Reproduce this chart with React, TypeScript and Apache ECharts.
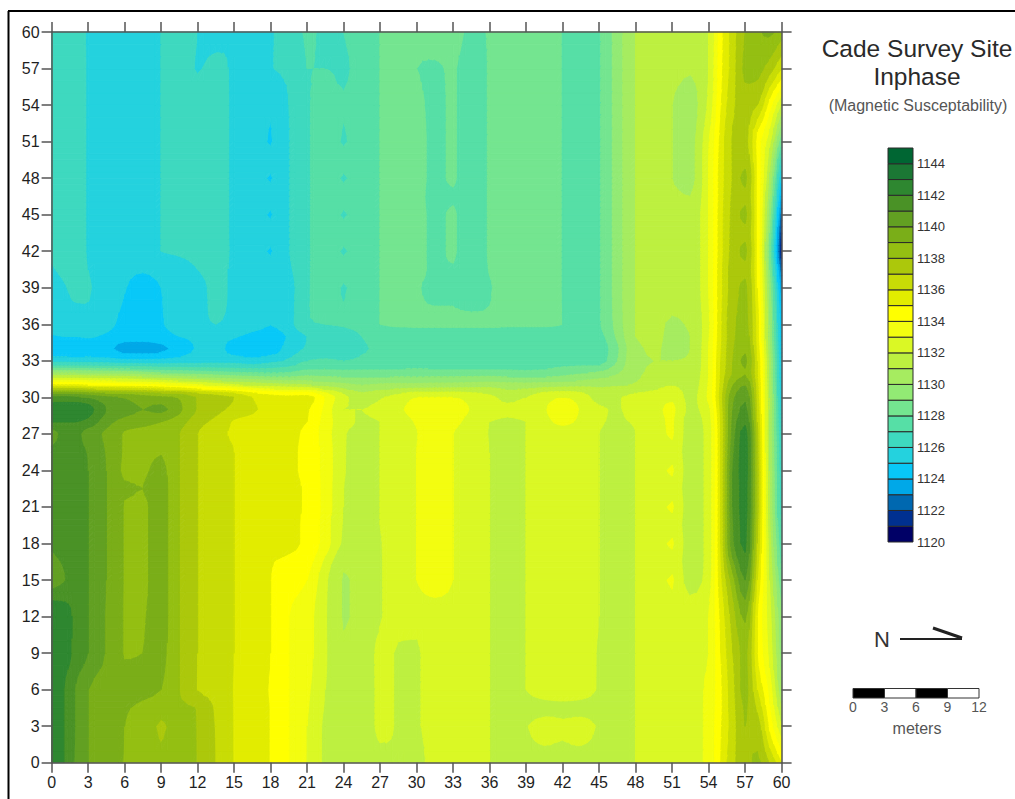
import React, { useEffect, useRef } from "react";
import * as echarts from "echarts";

// Map axes
const xTicks = { min: 0, max: 60, step: 3 };
const xs = [
  0, 1, 2, 3,
  4.5, 6, 7.5, 9, 10.5, 12, 13.5, 15, 16.5, 18, 19.5, 21,
  22.5, 24, 25.5, 27, 28.5, 30, 31.5, 33, 34.5, 36,
  37.5, 39, 40.5, 42, 43.5, 45, 46.5, 48, 49.5, 51, 52.5,
  54, 55, 56, 57, 58, 59, 60,
];

const row60 = [1126.4,1126.4,1126.3,1125.9, 1125.4,1125.4,1125.5,1126,1126.3,1126,1125.6,1125.9,1125.4,1125.9,1126.4,1127.1, 1126.9,1127,1127.4,1128,1128.4,1128.3,1128.5,1128.5,1127.7,1128.1, 1128.5,1128.5,1128.5,1127.95,1127.5,1127.9,1129.5,1131,1131.5,1131.5,1131.5, 1132,1134.6,1136.5,1138,1138.8,1139.2,1138.5];
const row57 = [1126.5,1126.5,1126.4,1125.9, 1125.4,1125.4,1125.5,1126,1126.3,1125.95,1126.2,1125.85,1125.3,1125.95,1126.2,1127, 1127,1126.9,1127.4,1128,1128.4,1128,1127.9,1128.1,1127.4,1128.1, 1128.5,1128.5,1128.5,1127.95,1127.5,1127.9,1129.5,1131,1131.5,1131.3,1131.1, 1132,1134.7,1136.5,1138.2,1138.3,1137.5,1136];
const row54 = [1126.5,1126.5,1126.4,1125.9, 1125.4,1125.4,1125.5,1126,1126.4,1126.4,1126.3,1125.85,1125.4,1125.1,1126,1126.9, 1127.3,1127.05,1127.4,1128,1128.5,1128.2,1127.8,1128.1,1127.4,1128.1, 1128.5,1128.5,1128.5,1127.95,1127.5,1127.9,1129.5,1131,1131.5,1131,1130.6, 1132.2,1134.9,1136.8,1137.5,1137,1134.5,1131.8];
const row51 = [1126.5,1126.5,1126.4,1125.9, 1125.4,1125.4,1125.5,1126,1126.4,1126.4,1126.3,1125.85,1125.4,1124.95,1125.95,1126.9, 1127.3,1126.95,1127.4,1128,1128.5,1128.3,1127.8,1128.1,1127.4,1128.1, 1128.5,1128.5,1128.5,1127.95,1127.5,1127.9,1129.5,1131,1131.5,1131,1130.7, 1132.9,1135.3,1137.1,1137.3,1134.6,1132.3,1128];
const row49 = [1126.5,1126.5,1126.4,1125.9, 1125.4,1125.4,1125.5,1126,1126.4,1126.4,1126.3,1125.85,1125.4,1125.2,1125.95,1126.9, 1127.3,1127.2,1127.4,1128,1128.5,1128.3,1127.8,1128.1,1127.4,1128.1, 1128.5,1128.5,1128.5,1127.95,1127.5,1127.9,1129.5,1131,1131.5,1131,1130.7, 1133,1135.4,1137.1,1137.7,1134.7,1131.5,1126];
const row48 = [1126.5,1126.5,1126.4,1125.9, 1125.4,1125.4,1125.5,1126,1126.4,1126.4,1126.3,1125.85,1125.4,1124.95,1125.95,1126.9, 1127.3,1126.95,1127.4,1128,1128.5,1128.3,1127.8,1128.1,1127.4,1128.1, 1128.5,1128.5,1128.5,1127.95,1127.5,1127.9,1129.5,1131,1131.5,1131,1130.7, 1133,1135.5,1137.1,1138.2,1134.9,1130.8,1124.5];
const row46 = [1126.5,1126.5,1126.4,1125.9, 1125.4,1125.4,1125.5,1126,1126.4,1126.4,1126.3,1125.85,1125.4,1125.2,1125.95,1126.9, 1127.3,1127.2,1127.4,1128,1128.5,1128.3,1127.7,1127.9,1127.4,1128.1, 1128.5,1128.5,1128.5,1127.95,1127.5,1127.9,1129.5,1131,1131.5,1131.2,1131, 1133,1135.5,1137.2,1137.8,1134.8,1130.1,1123.2];
const row45 = [1126.5,1126.5,1126.4,1125.9, 1125.4,1125.4,1125.5,1126,1126.4,1126.4,1126.3,1125.85,1125.4,1124.95,1125.95,1126.9, 1127.3,1126.95,1127.4,1128,1128.5,1128.3,1127.8,1128.1,1127.4,1128.1, 1128.5,1128.5,1128.5,1127.95,1127.5,1127.9,1129.5,1131,1131.5,1131.4,1131.3, 1133,1135.6,1137.3,1138.2,1134.8,1129.5,1122];
const row43 = [1126.4,1126.5,1126.4,1125.9, 1125.4,1125.4,1125.5,1126,1126.3,1126.4,1126.3,1125.85,1125.4,1125.2,1125.95,1126.9, 1127.3,1127.2,1127.4,1128,1128.5,1128.3,1127.8,1128.1,1127.4,1128.1, 1128.5,1128.5,1128.5,1127.95,1127.5,1127.9,1129.5,1131,1131.5,1131.4,1131.3, 1133,1135.6,1137.3,1137.8,1134.8,1129,1121];
const row42 = [1126.2,1126.4,1126.4,1125.9, 1125.4,1125.4,1125.5,1126,1126.1,1126.2,1126.3,1125.85,1125.4,1124.95,1125.95,1126.9, 1127.3,1126.95,1127.4,1128,1128.5,1128.3,1127.8,1128.1,1127.4,1128.1, 1128.5,1128.5,1128.5,1127.95,1127.5,1127.9,1129.5,1131,1131.5,1131.4,1131.3, 1133,1135.6,1137.4,1138.2,1134.8,1128.5,1120.6];
const row40 = [1125.9,1126.2,1126.3,1126, 1125.4,1125.2,1125.1,1125.4,1125.7,1126,1126.2,1125.85,1125.4,1125.2,1125.8,1126.9, 1127.3,1127.2,1127.4,1128,1128.5,1128.2,1127.9,1127.95,1127.4,1128.05, 1128.5,1128.5,1128.5,1127.95,1127.5,1127.9,1129.5,1131,1131.5,1131.4,1131.3, 1133,1135.7,1137.4,1137.8,1134.9,1129,1122];
const row39 = [1125.5,1125.9,1126.2,1126.1, 1125.4,1125.05,1124.6,1125,1125.4,1125.8,1126.1,1125.9,1125.3,1125.15,1125.6,1126.9, 1127.3,1126.95,1127.4,1128,1128.4,1128.05,1127.9,1127.9,1127.6,1127.9, 1128.5,1128.5,1128.5,1127.95,1127.5,1127.9,1129.5,1131,1131.4,1131.3,1131.3, 1133,1135.7,1137.5,1138.2,1135,1129.5,1123];
const row36 = [1125.4,1125.5,1125.5,1125.6, 1125.3,1124.7,1124.5,1124.9,1125.5,1125.9,1126,1125.9,1125.4,1125.02,1125.6,1126.95, 1127,1127.1,1127.4,1128,1128.1,1128.1,1128.1,1128.1,1128.1,1128.1, 1128.1,1128.1,1128.1,1128,1127.6,1127.9,1129.4,1131,1131.2,1130.9,1131.1, 1132.8,1135.8,1137.8,1138.3,1135.5,1130,1124];
const row35 = [1124.9,1125,1125,1125.1, 1124.8,1124.3,1124.3,1124.5,1125,1125.2,1125.3,1125.1,1124.7,1124.6,1125.1,1126, 1126.4,1126.4,1127,1127.3,1127.5,1127.5,1127.5,1127.5,1127.5,1127.5, 1127.5,1127.5,1127.5,1127.5,1127.5,1127.7,1129.2,1131,1131.2,1130.8,1131, 1132.9,1135.8,1137.8,1138.5,1135.5,1130,1124.2];
const row34 = [1124.3,1124.3,1124.3,1124.4, 1124.2,1123.7,1123.6,1123.8,1124.4,1125.1,1125.3,1124.6,1124.4,1124.5,1125.4,1126.1, 1126.3,1126.3,1126.9,1127.1,1127.2,1127.2,1127.2,1127.2,1127.2,1127.2, 1127.2,1127.2,1127.2,1127.2,1127.2,1127.4,1128.8,1130.8,1131.1,1130.8,1131, 1133,1135.9,1137.9,1138.8,1135.7,1130.2,1124.3];
const row33 = [1125.7,1125.7,1125.6,1125.6, 1125.5,1125.3,1125.3,1125.3,1125.5,1125.6,1125.7,1125.6,1125.4,1125.7,1126.2,1127, 1127.2,1127,1127.2,1127.3,1127.3,1127.4,1127.3,1127.3,1127.3,1127.3, 1127.3,1127.3,1127.4,1127.6,1127.6,1127.6,1129,1130.8,1131,1131,1131.1, 1133,1136,1138,1139.2,1136,1130.5,1124.5];
const row32 = [1130,1130,1130,1129.9, 1129.8,1129.7,1129.4,1129,1128.8,1128.6,1128.4,1128.2,1128.1,1128,1128.1,1128.5, 1128.5,1128.4,1128.4,1128.4,1128.5,1128.5,1128.5,1128.5,1128.5,1128.5, 1128.4,1128.3,1128.4,1128.6,1128.9,1129.2,1129.9,1130.8,1131.2,1131.5,1131.3, 1133,1136.1,1138.1,1138.9,1136,1130.6,1124.6];
const row31 = [1135.2,1135.2,1135.2,1135, 1134.8,1134.6,1134.4,1134.1,1133.7,1133.2,1132.7,1132.2,1131.8,1131.5,1131.3,1131.1, 1130.6,1130.3,1130,1130.2,1130.3,1130.3,1130.4,1130.4,1130.5,1130.6, 1130.4,1130.4,1130.5,1130.6,1130.7,1130.8,1130.9,1131.1,1131.6,1132,1131.5, 1133.1,1136.3,1139,1140,1136.3,1130.8,1124.8];
const row30 = [1141.2,1141.3,1141.1,1140.8, 1140.2,1139.9,1139.5,1139.2,1138.9,1137.9,1137.5,1137,1136,1135.5,1135.3,1135.4, 1133.9,1132.3,1131.5,1131.9,1132.4,1133,1133,1133,1132.6,1132.2, 1131.8,1132,1132.7,1133,1132.6,1131.6,1131.9,1132.3,1132.5,1132.8,1131.7, 1133.2,1136.5,1139.8,1140.8,1136.5,1131,1125];
const row29 = [1142.6,1142.7,1142.7,1142.4, 1141,1140.4,1140,1140.2,1139.2,1137.9,1137.3,1136.7,1136.1,1135.8,1135.5,1135.1, 1133.7,1132,1132,1132.2,1132.8,1133.4,1133.8,1133.6,1132.9,1132.3, 1132.1,1132.3,1132.9,1133.5,1132.9,1132.1,1131.95,1132.3,1132.7,1133.2,1131.7, 1132.7,1136.3,1140,1141.3,1136.8,1131,1125.3];
const row28 = [1142,1142,1142,1141.7, 1140.4,1139.6,1139.3,1139,1138.4,1137.4,1136.7,1135.9,1135.7,1135.5,1135.3,1135, 1133.5,1132.4,1131.9,1132,1132.5,1133.1,1133.7,1133.3,1132.6,1132, 1131.9,1132,1132.7,1133.2,1132.8,1132.1,1131.9,1132.1,1132.6,1133.1,1131.5, 1132.5,1136.1,1140.3,1141.8,1137,1130.9,1125.5];
const row27 = [1140.5,1141.2,1141.2,1140.5, 1139.8,1138.9,1138.7,1138.6,1138,1137,1136.2,1135.9,1135.6,1135.5,1135.3,1134.7, 1133.5,1132.1,1131.6,1132,1132.5,1132.95,1133.6,1133,1132.5,1131.95, 1131.6,1132,1132.4,1132.6,1132.5,1132,1131.6,1132,1132.5,1133.1,1131.4, 1132.4,1136,1140.5,1142.4,1137.3,1130.8,1125.8];
const row25 = [1141.2,1141.5,1141.4,1140.9, 1139.9,1138.9,1138.8,1138.95,1138,1137,1136.4,1136,1135.7,1135.5,1135.2,1134.7, 1133.6,1132.1,1131.5,1132,1132.5,1133,1133.6,1133,1132.5,1132, 1131.5,1132,1132.5,1132.6,1132.5,1132,1131.5,1132,1132.5,1132.7,1131.4, 1132.4,1136,1140.8,1142.5,1137.4,1130.9,1125.9];
const row24 = [1141.4,1141.6,1141.5,1141, 1140,1138.85,1138.9,1139.2,1138,1137,1136.5,1136,1135.7,1135.5,1135.2,1134.7, 1133.6,1132.1,1131.4,1132,1132.5,1133,1133.6,1133,1132.5,1132, 1131.5,1132,1132.5,1132.6,1132.5,1132,1131.5,1132,1132.5,1133.1,1131.4, 1132.4,1136,1141,1142.5,1137.5,1131,1126];
const row22 = [1141.5,1141.6,1141.5,1141, 1140,1139.1,1139,1139.3,1138,1137,1136.5,1136,1135.7,1135.5,1135.3,1134.8, 1133.6,1132,1131.4,1132,1132.5,1133,1133.6,1133,1132.5,1132, 1131.5,1132,1132.5,1132.6,1132.5,1132,1131.5,1132,1132.5,1132.7,1131.4, 1132.4,1136,1141,1142.4,1137.5,1131,1126.2];
const row21 = [1141.5,1141.6,1141.5,1141, 1140,1138.95,1138.9,1139.3,1138,1137,1136.5,1136,1135.7,1135.5,1135.3,1134.8, 1133.6,1132,1131.4,1132,1132.5,1133,1133.6,1133,1132.5,1132, 1131.5,1132,1132.5,1132.6,1132.5,1132,1131.5,1132,1132.5,1133.1,1131.4, 1132.4,1136,1141,1142.4,1137.5,1131,1126.3];
const row19 = [1141.4,1141.6,1141.5,1141, 1140,1138.95,1138.9,1139.3,1138,1137,1136.5,1136,1135.7,1135.4,1135.2,1134.8, 1133.5,1131.9,1131.4,1132,1132.4,1133,1133.6,1133,1132.5,1132, 1131.5,1132,1132.5,1132.6,1132.5,1132,1131.5,1132,1132.5,1132.7,1131.4, 1132.4,1136,1140.9,1142.3,1137.2,1131.2,1126.7];
const row18 = [1141.2,1141.5,1141.5,1141, 1140,1138.95,1138.9,1139.3,1138,1137,1136.5,1136,1135.7,1135.4,1135.2,1134.8, 1133.5,1131.8,1131.4,1131.95,1132.4,1133,1133.6,1133,1132.5,1132, 1131.5,1132,1132.5,1132.6,1132.5,1132,1131.5,1132,1132.5,1133.1,1131.4, 1132.4,1136,1140.8,1142.2,1137,1131.5,1127];
const row16 = [1140.7,1141.1,1141.5,1141, 1140,1138.95,1138.9,1139.3,1138,1137,1136.5,1136,1135.6,1135.05,1134.8,1134.4, 1132.7,1131.2,1131.3,1131.95,1132.3,1133,1133.5,1133,1132.5,1132, 1131.5,1132,1132.5,1132.6,1132.5,1132,1131.5,1132,1132.5,1132.7,1131.4, 1132.4,1135.9,1139.8,1141.7,1136.5,1131.7,1127.5];
const row15 = [1140.5,1140.9,1141.5,1141, 1140,1138.95,1138.9,1139.3,1138,1137,1136.5,1136,1135.5,1135,1134.5,1134, 1132.2,1130.93,1131.3,1131.95,1132.3,1133,1133.5,1133,1132.5,1132, 1131.5,1132,1132.5,1132.6,1132.5,1132,1131.5,1132,1132.5,1133.1,1131.5, 1132.5,1135.7,1138.6,1141,1136,1132,1128];
const row12 = [1143,1142.6,1141.7,1141, 1139.9,1138.95,1138.95,1139.3,1138,1137,1136.5,1136,1135.5,1135,1134,1133.4, 1132.1,1130.93,1131.3,1131.95,1132.2,1132.2,1132.4,1132.5,1132.4,1132, 1131.5,1132,1132.5,1132.6,1132.5,1132,1131.5,1132,1132.4,1132.6,1132.7, 1133,1135.2,1137.5,1139.2,1135,1132.4,1129];
const row9 = [1142.8,1142.5,1141.7,1141, 1139.9,1138.95,1139,1139.2,1138,1137,1136.5,1136,1135.5,1135,1134,1133.4, 1132.1,1131.2,1131.3,1132.2,1131.95,1131.95,1132.3,1132.5,1132.4,1132, 1131.5,1132,1132.5,1132.8,1132.5,1131.9,1131.4,1132,1132.4,1132.6,1132.7, 1133,1135,1137,1138.3,1135,1132.7,1129.3];
const row6 = [1142.7,1142,1140.9,1140, 1139.5,1139.3,1139.2,1139,1138,1136.95,1136.5,1135.95,1135.5,1134.9,1134,1133.2, 1132,1131.4,1131.3,1132.2,1131.95,1131.95,1132.3,1132.5,1132.4,1132, 1131.5,1132,1132.4,1132.5,1132.4,1131.9,1131.4,1132,1132.4,1132.6,1132.7, 1133.2,1134.8,1136.7,1138.3,1136,1133.6,1130];
const row4 = [1142.6,1142,1140.9,1140, 1139.5,1139.1,1138.8,1138.4,1138.2,1137.95,1136.8,1135.95,1135.5,1134.95,1134,1133.1, 1131.9,1131.3,1131.3,1132.2,1131.95,1131.95,1132.3,1132.5,1132.4,1132, 1131.5,1131.5,1131.7,1131.8,1131.7,1131.5,1131.4,1132,1132.4,1132.6,1132.6, 1133.3,1134.8,1136.6,1138.1,1136.8,1134.1,1131];
const row3 = [1142.6,1142,1140.9,1140, 1139.5,1139,1138.5,1137.9,1138.3,1137.95,1136.9,1135.95,1135.5,1134.95,1134,1133, 1131.8,1131.3,1131.3,1132.2,1131.95,1131.95,1132.3,1132.5,1132.4,1132, 1131.5,1131.95,1132.3,1132.1,1132.3,1131.9,1131.4,1132,1132.4,1132.6,1132.6, 1133.3,1134.9,1136.5,1138,1137.5,1134.7,1132];
const row0 = [1142.8,1142,1140.8,1140, 1139.5,1138.95,1138.6,1138.2,1138.4,1137.95,1137,1135.95,1135.5,1134.95,1134,1132.95, 1131.8,1131.4,1131.4,1131.6,1132,1131.7,1132.4,1132.5,1132.4,1132, 1131.5,1131.5,1131.6,1131.7,1131.6,1131.5,1131.4,1132,1132.4,1132.5,1132.6, 1133.3,1135,1136.8,1137.5,1138.2,1137,1135];

const ys = [0, 3, 4.5, 6, 9, 12, 15, 16.5, 18, 19.5, 21, 22.5, 24, 25.5, 27, 28, 29, 30, 31, 32, 33, 34, 35, 36, 39, 40.5, 42, 43.5, 45, 46.5, 48, 49.5, 51, 54, 57, 60];
const grid = [row0, row3, row4, row6, row9, row12, row15, row16, row18, row19, row21, row22, row24, row25, row27, row28, row29, row30, row31, row32, row33, row34, row35, row36, row39, row40, row42, row43, row45, row46, row48, row49, row51, row54, row57, row60];

// Colour bands: bandLevels[i] .. bandLevels[i] + 1 is painted bandColors[i]
const bandLevels = [1120,1121,1122,1123,1124,1125,1126,1127,1128,1129,1130,1131,1132,1133,1134,1135,1136,1137,1138,1139,1140,1141,1142,1143,1144];
const bandColors = ["#000066","#003090","#0068b0","#00a8e8","#08c8f8","#24d2de","#3ed9bf","#56dfa6","#74e590","#92ea74","#a6ec60","#bdf040","#daf825","#f3fd10","#ffff00","#e2ec00","#c8dc06","#acc80b","#94bf12","#7aae18","#62a022","#4a9226","#2e8730","#1b7734","#006633"];

const scaleSegments = [0, 3, 6, 9];
const scaleLabels = ["0", "3", "6", "9", "12"];

const FONT = '"Liberation Sans", Arial, sans-serif';
type V = [number, number, number];

// Contouring: a monotone cubic between the readings, sampled SUB times per gap,
// so the band edges curve as a contouring package draws them.
const SUB = 3;

function tangents(t: number[], v: number[]) {
  const n = t.length;
  const h: number[] = [];
  const s: number[] = [];
  for (let i = 0; i < n - 1; i++) {
    h.push(t[i + 1] - t[i]);
    s.push((v[i + 1] - v[i]) / h[i]);
  }
  const d = new Array(n).fill(0);
  d[0] = s[0];
  d[n - 1] = s[n - 2];
  for (let i = 1; i < n - 1; i++) {
    if (s[i - 1] * s[i] <= 0) d[i] = 0;
    else {
      const w1 = 2 * h[i] + h[i - 1];
      const w2 = h[i] + 2 * h[i - 1];
      d[i] = (w1 + w2) / (w1 / s[i - 1] + w2 / s[i]);
    }
  }
  return { d, h };
}

function sample(t: number[], v: number[]) {
  const { d, h } = tangents(t, v);
  const out: number[] = [];
  for (let i = 0; i < t.length - 1; i++) {
    for (let k = 0; k < SUB; k++) {
      const u = k / SUB;
      const u2 = u * u;
      const u3 = u2 * u;
      out.push(
        (2 * u3 - 3 * u2 + 1) * v[i] + (u3 - 2 * u2 + u) * h[i] * d[i] + (-2 * u3 + 3 * u2) * v[i + 1] + (u3 - u2) * h[i] * d[i + 1],
      );
    }
  }
  out.push(v[v.length - 1]);
  return out;
}

function steps(t: number[]) {
  const out: number[] = [];
  for (let i = 0; i < t.length - 1; i++) {
    for (let k = 0; k < SUB; k++) out.push(t[i] + ((t[i + 1] - t[i]) * k) / SUB);
  }
  out.push(t[t.length - 1]);
  return out;
}

const fineXs = steps(xs);
const fineYs = steps(ys);
const alongX = grid.map((r) => sample(xs, r));
const fineCols = fineXs.map((_, ix) => sample(ys, alongX.map((r) => r[ix])));
const fine = (ix: number, iy: number) => fineCols[ix][iy];

// Each piece: [first column, row, columns covered, band or -1 when a band edge crosses it]
const pieces: number[][] = [];
for (let iy = 0; iy < fineYs.length - 1; iy++) {
  let ix = 0;
  while (ix < fineXs.length - 1) {
    const bandAt = (c: number) => {
      const b = Math.floor(fine(c, iy));
      return b === Math.floor(fine(c, iy + 1)) ? b : -1;
    };
    const b = bandAt(ix);
    if (b < 0 || bandAt(ix + 1) !== b) {
      pieces.push([ix, iy, 1, -1]);
      ix += 1;
    } else {
      let end = ix + 1;
      while (end < fineXs.length - 1 && bandAt(end + 1) === b) end++;
      pieces.push([ix, iy, end - ix, b]);
      ix = end;
    }
  }
}

function clip(poly: V[], level: number, keepAbove: boolean): V[] {
  const out: V[] = [];
  for (let i = 0; i < poly.length; i++) {
    const a = poly[i];
    const b = poly[(i + 1) % poly.length];
    const ai = keepAbove ? a[2] >= level : a[2] <= level;
    const bi = keepAbove ? b[2] >= level : b[2] <= level;
    if (ai) out.push(a);
    if (ai !== bi) {
      const t = (level - a[2]) / (b[2] - a[2]);
      out.push([a[0] + t * (b[0] - a[0]), a[1] + t * (b[1] - a[1]), level]);
    }
  }
  return out;
}

function polygon(points: number[][], color: string) {
  return {
    type: "polygon",
    shape: { points },
    style: { fill: color, stroke: color, lineWidth: 0.9 },
    silent: true,
  };
}

function bandsOfTriangle(tri: V[], api: any, children: any[]) {
  const vals = tri.map((p) => p[2]);
  const lo = Math.floor(Math.min(...vals));
  const hi = Math.floor(Math.max(...vals));
  for (let k = lo; k <= hi; k++) {
    const idx = bandLevels.indexOf(k);
    if (idx < 0) continue;
    let poly = clip(tri, k, true);
    if (poly.length) poly = clip(poly, k + 1, false);
    if (poly.length < 3) continue;
    children.push(polygon(poly.map((p) => api.coord([p[0], p[1]])), bandColors[idx]));
  }
}

function renderPiece(_: any, api: any) {
  const i = api.value(0);
  const j = api.value(1);
  const len = api.value(2);
  const band = api.value(3);
  const x0 = fineXs[i], x1 = fineXs[i + len], y0 = fineYs[j], y1 = fineYs[j + 1];
  if (band >= 0) {
    const idx = bandLevels.indexOf(band);
    return polygon(
      [api.coord([x0, y0]), api.coord([x1, y0]), api.coord([x1, y1]), api.coord([x0, y1])],
      bandColors[Math.max(idx, 0)],
    );
  }
  const a: V = [x0, y0, fine(i, j)];
  const b: V = [x1, y0, fine(i + 1, j)];
  const c: V = [x1, y1, fine(i + 1, j + 1)];
  const d: V = [x0, y1, fine(i, j + 1)];
  const children: any[] = [];
  bandsOfTriangle([a, b, c], api, children);
  bandsOfTriangle([a, c, d], api, children);
  return { type: "group", children };
}

function renderSwatch(_: any, api: any) {
  const level = api.value(0);
  const idx = bandLevels.indexOf(level);
  const tl = api.coord([0, level + 1]);
  const br = api.coord([1, level]);
  return {
    type: "rect",
    shape: { x: tl[0], y: tl[1], width: br[0] - tl[0], height: br[1] - tl[1] },
    style: { fill: bandColors[idx], stroke: "#2a2a2a", lineWidth: 1 },
  };
}

function text(t: string, x: number, y: number, size: number, fill: string) {
  return {
    type: "text",
    x,
    y,
    style: { text: t, fill, font: `${size}px ${FONT}`, textAlign: "center", textVerticalAlign: "middle" },
    silent: true,
  };
}

const axisStyle = { lineStyle: { color: "#555", width: 1.5 } };

function mapAxis(position: string, labelled: boolean) {
  return {
    type: "value",
    gridIndex: 0,
    position,
    min: xTicks.min,
    max: xTicks.max,
    interval: xTicks.step,
    z: 5,
    axisLine: { show: true, onZero: false, ...axisStyle },
    axisTick: { show: true, length: 10, inside: false, ...axisStyle },
    splitLine: { show: false },
    axisLabel: {
      show: labelled,
      color: "#1f1f1f",
      fontFamily: FONT,
      fontSize: 16,
      margin: 12,
    },
  };
}

export default function App() {
  const ref = useRef<HTMLDivElement>(null);
  useEffect(() => {
    if (!ref.current) return;
    const chart = echarts.init(ref.current, undefined, { renderer: "svg" });
    const segW = 31.5;
    chart.setOption({
      animation: false,
      backgroundColor: "#ffffff",
      grid: [
        { left: 51.6, top: 32, width: 730, height: 730.7 },
        { left: 888, top: 148, width: 25, height: 394 },
      ],
      xAxis: [
        mapAxis("bottom", true),
        mapAxis("top", false),
        { type: "value", gridIndex: 1, min: 0, max: 1, show: false },
      ],
      yAxis: [
        mapAxis("left", true),
        mapAxis("right", false),
        {
          type: "value",
          gridIndex: 1,
          position: "right",
          min: bandLevels[0],
          max: bandLevels[bandLevels.length - 1] + 1,
          interval: 2,
          axisLine: { show: false },
          axisTick: { show: false },
          splitLine: { show: false },
          axisLabel: {
            color: "#333",
            fontFamily: FONT,
            fontSize: 13,
            margin: 4,
            showMaxLabel: false,
            formatter: (v: number) => String(v),
          },
        },
      ],
      series: [
        {
          type: "custom",
          coordinateSystem: "cartesian2d",
          xAxisIndex: 0,
          yAxisIndex: 0,
          data: pieces,
          encode: { x: -1, y: -1 },
          clip: true,
          silent: true,
          renderItem: renderPiece,
        },
        {
          type: "custom",
          coordinateSystem: "cartesian2d",
          xAxisIndex: 2,
          yAxisIndex: 2,
          data: bandLevels.map((l) => [l]),
          encode: { x: -1, y: -1 },
          silent: true,
          renderItem: renderSwatch,
        },
      ],
      graphic: [
        { type: "line", shape: { x1: 8.5, y1: 11, x2: 8.5, y2: 799 }, style: { stroke: "#000", lineWidth: 2 }, silent: true },
        { type: "line", shape: { x1: 8, y1: 11, x2: 1015, y2: 11 }, style: { stroke: "#000", lineWidth: 2 }, silent: true },
        text("Cade Survey Site", 917, 48, 24.5, "#2a2a2a"),
        text("Inphase", 917, 76, 24.5, "#2a2a2a"),
        text("(Magnetic Susceptability)", 918, 105, 16, "#555"),
        text("N", 882, 639, 22, "#333"),
        { type: "line", shape: { x1: 900, y1: 639, x2: 962, y2: 639 }, style: { stroke: "#222", lineWidth: 2 }, silent: true },
        { type: "line", shape: { x1: 933, y1: 628, x2: 962, y2: 638 }, style: { stroke: "#222", lineWidth: 3 }, silent: true },
        ...scaleSegments.map((_, i) => ({
          type: "rect",
          shape: { x: 853 + i * segW, y: 688.5, width: segW, height: 9.5 },
          style: { fill: i % 2 === 0 ? "#000" : "#fff", stroke: "#333", lineWidth: 1 },
          silent: true,
        })),
        ...scaleLabels.map((l, i) => text(l, 853 + i * segW, 707, 14, "#555")),
        text("meters", 917, 728, 16, "#555"),
      ],
    });
    return () => chart.dispose();
  }, []);
  return <div ref={ref} style={{ position: "absolute", left: 0, top: 0, width: 1015, height: 799 }} />;
}
